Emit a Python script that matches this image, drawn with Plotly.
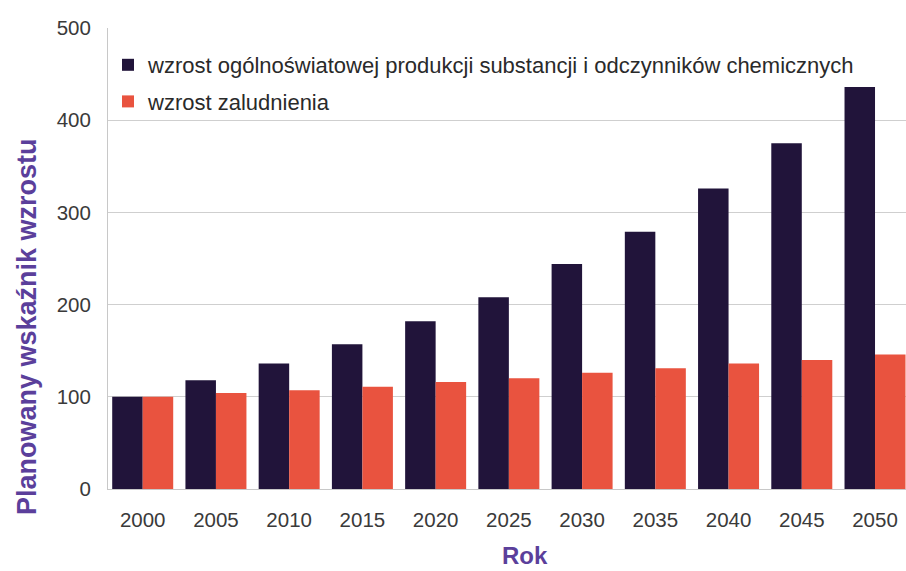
import plotly.graph_objects as go

years = ["2000", "2005", "2010", "2015", "2020", "2025", "2030", "2035", "2040", "2045", "2050"]
chem_production = [100, 118, 136, 157, 182, 208, 244, 279, 326, 375, 436]
population = [100, 104, 107, 111, 116, 120, 126, 131, 136, 140, 146]
y_ticks = [0, 100, 200, 300, 400, 500]

name_chem = "wzrost ogólnoświatowej produkcji substancji i odczynników chemicznych"
name_pop = "wzrost zaludnienia"
title_y = "Planowany wskaźnik wzrostu"
title_x = "Rok"

dark = "#21143a"
red = "#e9533f"
purple = "#5b3f9b"
tick_col = "#3a3a3a"

fig = go.Figure()
fig.add_trace(go.Bar(x=years, y=chem_production, name=name_chem, marker_color=dark,
                     marker_line_width=0, legendgroup="a"))
fig.add_trace(go.Bar(x=years, y=population, name=name_pop, marker_color=red,
                     marker_line_width=0, legendgroup="b"))

W, H = 906, 571
L, R, T, B = 108, 0, 28, 82
pw = W - L - R
ph = H - T - B

fig.update_layout(
    width=W, height=H,
    margin=dict(l=L, r=R, t=T, b=B, pad=0),
    paper_bgcolor="white", plot_bgcolor="white",
    barmode="group", bargap=0.167, bargroupgap=0,
    font=dict(family="Liberation Sans, Arial, sans-serif", size=21, color=tick_col),
    legend=dict(
        x=(108 - L) / pw, y=(489 - 44) / ph, xanchor="left", yanchor="top",
        bgcolor="rgba(255,255,255,0)", borderwidth=0,
        font=dict(size=22, color="#2a2a2a"),
        traceorder="grouped", tracegroupgap=5,
    ),
    xaxis=dict(
        type="category", range=[-0.474, 10.423],
        showline=True, linecolor="#c8c8c8", linewidth=1,
        showgrid=False, ticks="", ticklabelstandoff=12,
        tickfont=dict(size=20.5, color=tick_col),
    ),
    yaxis=dict(
        range=[0, 500], tickvals=y_ticks,
        showline=True, linecolor="#c8c8c8", linewidth=1,
        showgrid=True, gridcolor="#cfcfcf", gridwidth=1,
        zeroline=False, ticks="", ticklabelstandoff=12,
        tickfont=dict(size=20.5, color=tick_col),
    ),
    showlegend=True,
)

fig.add_annotation(
    text="<b>" + title_y + "</b>", textangle=-90, xref="paper", yref="paper",
    x=(27 - L) / pw, y=(489 - 327) / ph, xanchor="center", yanchor="middle",
    showarrow=False, font=dict(size=27, color=purple, family="Liberation Sans, Arial, sans-serif"),
)
fig.add_annotation(
    text="<b>" + title_x + "</b>", xref="paper", yref="paper",
    x=(525 - L) / pw, y=(489 - 555) / ph, xanchor="center", yanchor="middle",
    showarrow=False, font=dict(size=24, color=purple, family="Liberation Sans, Arial, sans-serif"),
)

fig.write_html("out.html")
